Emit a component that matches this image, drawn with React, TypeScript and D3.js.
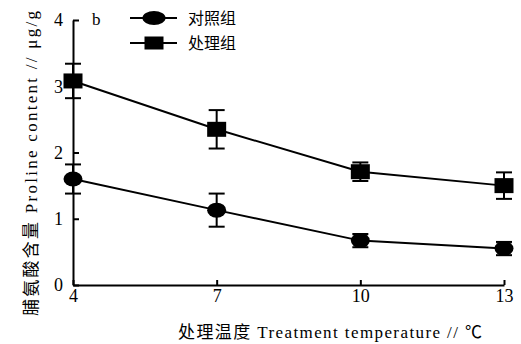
import * as React from 'react';
import * as d3 from 'd3';

const temps = [4, 7, 10, 13];
const yTicks = [0, 1, 2, 3, 4];
const seriesNames = ['对照组', '处理组'];
const controlMean = [1.6, 1.13, 0.67, 0.55];
const controlErr = [0.22, 0.25, 0.1, 0.1];
const treatMean = [3.08, 2.35, 1.71, 1.5];
const treatErr = [0.26, 0.29, 0.14, 0.2];

const W = 521;
const H = 344;
const margin = { top: 20, right: 17, bottom: 59, left: 73 };
const font = '"Liberation Serif", "Noto Sans CJK SC", serif';

export default function App() {
    const ref = React.useRef<SVGSVGElement>(null);

    React.useEffect(() => {
        const svg = d3.select(ref.current);
        svg.selectAll('*').remove();

        const x = d3.scaleLinear().domain([4, 13]).range([margin.left, W - margin.right]);
        const y = d3.scaleLinear().domain([0, 4]).range([H - margin.bottom, margin.top]);

        // axes
        const xAxis = svg.append('g')
            .attr('transform', 'translate(0,' + y(0) + ')')
            .call(d3.axisBottom(x).tickValues(temps).tickFormat(d3.format('d')).tickSizeInner(-5).tickSizeOuter(0).tickPadding(4));
        const yAxis = svg.append('g')
            .attr('transform', 'translate(' + x(4) + ',0)')
            .call(d3.axisLeft(y).tickValues(yTicks).tickFormat(d3.format('d')).tickSizeInner(-6).tickSizeOuter(0).tickPadding(10));
        [xAxis, yAxis].forEach(a => {
            a.select('.domain').attr('stroke', '#000').attr('stroke-width', 2);
            a.selectAll('.tick line').attr('stroke', '#000').attr('stroke-width', 2);
            a.selectAll('.tick text').attr('fill', '#000').style('font-size', '18px').style('font-family', font);
        });

        const series = [
            { name: seriesNames[0], mean: controlMean, err: controlErr, shape: 'circle' },
            { name: seriesNames[1], mean: treatMean, err: treatErr, shape: 'square' }
        ];

        const line = d3.line<number>().x((d, i) => x(temps[i])).y(d => y(d));

        const drawMarker = (g, shape, cx, cy, w, h) => {
            if (shape === 'circle') {
                g.append('ellipse').attr('cx', cx).attr('cy', cy).attr('rx', w / 2).attr('ry', h / 2).attr('fill', '#000');
            } else {
                g.append('rect').attr('x', cx - w / 2).attr('y', cy - h / 2).attr('width', w).attr('height', h).attr('fill', '#000');
            }
        };

        series.forEach(s => {
            const g = svg.append('g');
            g.append('path')
                .attr('d', line(s.mean))
                .attr('fill', 'none')
                .attr('stroke', '#000')
                .attr('stroke-width', 2);
            s.mean.forEach((m, i) => {
                const cx = x(temps[i]);
                const hi = y(m + s.err[i]);
                const lo = y(m - s.err[i]);
                g.append('line').attr('x1', cx).attr('x2', cx).attr('y1', hi).attr('y2', lo)
                    .attr('stroke', '#000').attr('stroke-width', 2);
                [hi, lo].forEach(v => {
                    g.append('line').attr('x1', cx - 8).attr('x2', cx + 8).attr('y1', v).attr('y2', v)
                        .attr('stroke', '#000').attr('stroke-width', 2);
                });
                drawMarker(g, s.shape, cx, y(m), 19, 15);
            });
        });

        // legend
        series.forEach((s, i) => {
            const ly = 18 + i * 25;
            const g = svg.append('g');
            g.append('line').attr('x1', 130).attr('x2', 177).attr('y1', ly).attr('y2', ly)
                .attr('stroke', '#000').attr('stroke-width', 2);
            drawMarker(g, s.shape, 154, ly, s.shape === 'circle' ? 23 : 19, s.shape === 'circle' ? 14 : 13);
            g.append('text').attr('x', 188).attr('y', ly + 6)
                .style('font-family', font).style('font-size', '16px')
                .text(s.name);
        });

        svg.append('text').attr('x', 92).attr('y', 25)
            .style('font-family', font).style('font-size', '17px')
            .text('b');

        // axis titles
        svg.append('text')
            .attr('x', 178).attr('y', 338)
            .attr('textLength', 304).attr('lengthAdjust', 'spacing')
            .style('font-family', font).style('font-size', '17px')
            .text('处理温度 Treatment temperature // ℃');
        svg.append('text')
            .attr('transform', 'translate(37,316) rotate(-90)')
            .attr('textLength', 305).attr('lengthAdjust', 'spacing')
            .style('font-family', font).style('font-size', '17px')
            .text('脯氨酸含量 Proline content // μg/g');
    }, []);

    return (
        <svg ref={ref} width={W} height={H} style={{ position: 'absolute', left: 0, top: 0, background: '#fff' }} />
    );
}
